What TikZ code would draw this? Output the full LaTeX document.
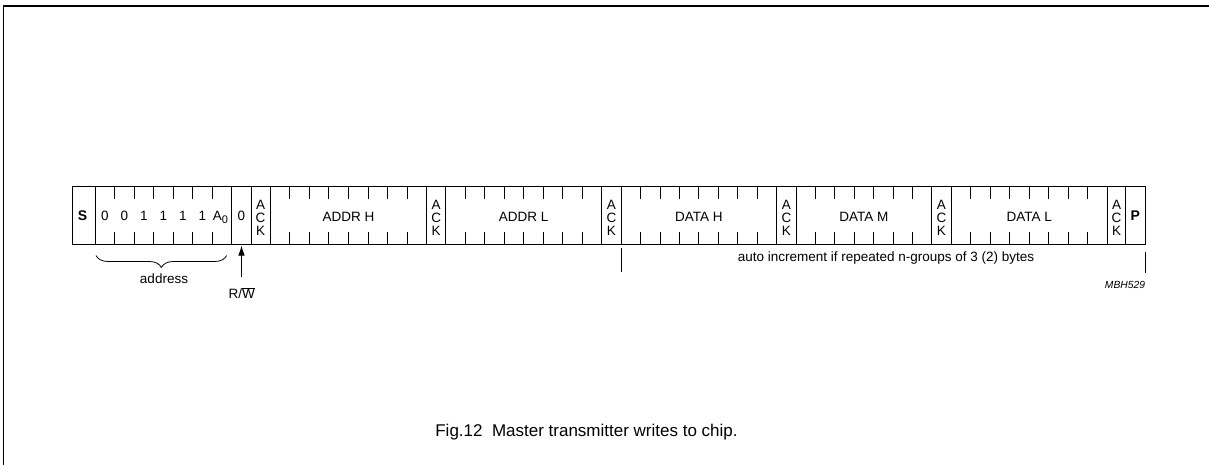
\documentclass[tikz,border=0pt]{standalone}
\usepackage{fontspec}
\setmainfont{Liberation Sans}
\usetikzlibrary{decorations.pathreplacing,arrows.meta}
\newcommand\fsz[1]{\fontsize{#1}{#1}\selectfont}
\begin{document}
\begin{tikzpicture}[x=1pt,y=-1pt,
  barline/.style={line width=0.9pt},
  framel/.style={line width=1.4pt},
  lbl/.style={inner sep=0pt,font=\fsz{13.5}},
  bitlbl/.style={inner sep=0pt,font=\fsz{13.5}},
  ack/.style={inner sep=0pt,align=center,font=\fontsize{13.5}{13.3}\selectfont},
  bold/.style={inner sep=0pt,font=\fsz{14}\bfseries},
  tick/.style={line width=0.8pt}]
\useasboundingbox (0,0) rectangle (1209,465);
% frame
\draw[framel] (3.3,465) -- (3.3,6) -- (1209,6);
% bar outline
\draw[barline] (72.7,186.7) rectangle (1145,244.3);
% separators
\foreach \x in {95,231.7,251,270,426.7,445.7,601.7,621,776.7,796,931.7,951,1107.3,1125.7}
  \draw[barline] (\x,186.7) -- (\x,244.3);
% ticks
\foreach \a/\b/\n in {95/231.7/7,270/426.7/8,445.7/601.7/8,621/776.7/8,796/931.7/7,951/1107.3/8}{
  \pgfmathtruncatemacro\m{\n-1}
  \foreach \k in {1,...,\m}{
    \pgfmathsetmacro\xx{\a+\k*(\b-\a)/\n}
    \draw[tick] (\xx,186.7) -- ++(0,12);
    \draw[tick] (\xx,244.3) -- ++(0,-12.6);
  }
}
% labels in cells
\node[bold] (S) at (82.5,215.5) {S};
\node[bitlbl] (b6) at (104.8,215.5) {0};
\node[bitlbl] (b5) at (124.3,215.5) {0};
\node[bitlbl] (b4) at (143.8,215.5) {1};
\node[bitlbl] (b3) at (163.3,215.5) {1};
\node[bitlbl] (b2) at (182.8,215.5) {1};
\node[bitlbl] (b1) at (202.3,215.5) {1};
\node[bitlbl,anchor=base] (b0) at (220.5,220.3) {A\raisebox{-3pt}{\fsz{11}0}};
\node[bitlbl] (rwbit) at (241.4,215.5) {0};
\node[ack] (ack1) at (260.5,218) {A\\C\\K};
\node[lbl] (addrh) at (348.4,216.7) {ADDR H};
\node[ack] (ack2) at (436.2,218) {A\\C\\K};
\node[lbl] (addrl) at (523.7,216.7) {ADDR L};
\node[ack] (ack3) at (611.4,218) {A\\C\\K};
\node[lbl] (datah) at (698.9,216.7) {DATA H};
\node[ack] (ack4) at (786.4,218) {A\\C\\K};
\node[lbl] (datam) at (863.9,216.7) {DATA M};
\node[ack] (ack5) at (941.4,218) {A\\C\\K};
\node[lbl] (datal) at (1029.2,216.7) {DATA L};
\node[ack] (ack6) at (1116.5,218) {A\\C\\K};
\node[bold] (P) at (1135.4,215.5) {P};
% address brace
\draw[line width=0.8pt,decorate,decoration={brace,amplitude=12pt,mirror}] (96,255.5) -- (226.7,255.5);
\node[lbl] (addr) at (164,279) {address};
% R/W arrow
\node[lbl] (rw) at (241.7,293) {R/$\overline{\mbox{W}}$};
\coordinate (rwtail) at (241.5,277);
\coordinate (rwtip) at (241.5,245.5);
\draw[line width=0.9pt,-{Latex[length=10pt,width=6.5pt]}] (rwtail) -- (rwtip);
% auto increment
\coordinate (l1a) at (621,248.3);
\coordinate (l1b) at (621,271.7);
\coordinate (l2a) at (1145.7,251.7);
\coordinate (l2b) at (1145.7,273.3);
\draw[barline] (l1a) -- (l1b);
\draw[barline] (l2a) -- (l2b);
\node[lbl] (auto) at (886,258) {auto increment if repeated n-groups of 3 (2) bytes};
\node[inner sep=0pt,font=\fsz{10.3}\itshape] (mbh) at (1125,285) {MBH529};
% caption
\node[inner sep=0pt,font=\fsz{17}] (cap) at (586.5,432) {Fig.12\ \ Master transmitter writes to chip.};
\end{tikzpicture}
\end{document}
